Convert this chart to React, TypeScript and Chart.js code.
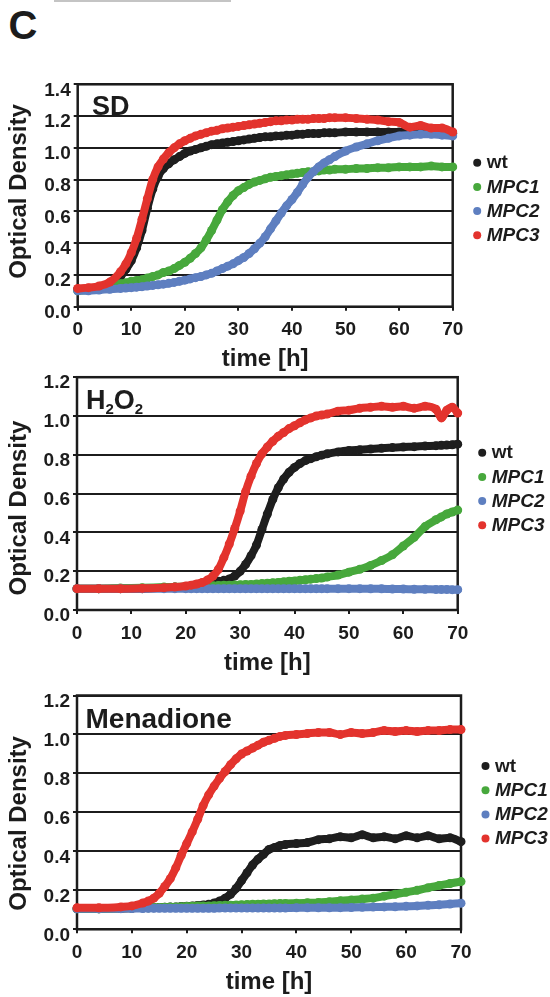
import React, { useEffect, useRef } from 'react';
import { Chart, registerables } from 'chart.js';

Chart.register(...registerables);
Chart.defaults.font.family = '"Liberation Sans", Arial, sans-serif';

// ---------- shared axis data ----------
const timeTicks = [0, 10, 20, 30, 40, 50, 60, 70];
const sdYTicks = [0, 0.2, 0.4, 0.6, 0.8, 1.0, 1.2, 1.4];
const stressYTicks = [0, 0.2, 0.4, 0.6, 0.8, 1.0, 1.2];
const seriesLabels = ['wt', 'MPC1', 'MPC2', 'MPC3'];
const labelItalic = [false, true, true, true];
const seriesColors = ['#1e1e1e', '#47a83c', '#5e7fc0', '#e3332d'];

// ---------- SD ----------
const sdTime = [0, 2, 4, 6, 8, 9, 10, 11, 12, 13, 14, 15, 16, 17, 18, 19, 20, 21, 22, 23, 24, 25, 26, 27, 28, 29, 30, 31, 32, 33, 34, 35, 36, 37, 38, 39, 40, 41, 42, 43, 44, 45, 46, 47, 48, 50, 52, 54, 56, 58, 60, 62, 64, 66, 68, 70];
const sdWt = [0.11, 0.115, 0.122, 0.14, 0.19, 0.235, 0.29, 0.37, 0.48, 0.62, 0.74, 0.82, 0.87, 0.9, 0.925, 0.945, 0.965, 0.98, 0.99, 1.0, 1.01, 1.02, 1.025, 1.03, 1.035, 1.04, 1.045, 1.05, 1.055, 1.06, 1.065, 1.07, 1.07, 1.075, 1.075, 1.08, 1.08, 1.085, 1.085, 1.09, 1.09, 1.09, 1.095, 1.095, 1.095, 1.1, 1.1, 1.1, 1.1, 1.1, 1.1, 1.1, 1.1, 1.095, 1.095, 1.09];
const sdMpc1 = [0.1, 0.105, 0.115, 0.13, 0.145, 0.15, 0.16, 0.165, 0.17, 0.18, 0.19, 0.2, 0.215, 0.225, 0.24, 0.26, 0.28, 0.305, 0.335, 0.37, 0.42, 0.48, 0.545, 0.61, 0.66, 0.7, 0.73, 0.75, 0.77, 0.785, 0.795, 0.805, 0.815, 0.82, 0.825, 0.83, 0.835, 0.84, 0.845, 0.85, 0.85, 0.855, 0.86, 0.86, 0.865, 0.865, 0.87, 0.87, 0.875, 0.875, 0.88, 0.88, 0.88, 0.885, 0.88, 0.88];
const sdMpc2 = [0.1, 0.1, 0.105, 0.11, 0.115, 0.117, 0.12, 0.123, 0.126, 0.13, 0.134, 0.138, 0.142, 0.147, 0.153, 0.16, 0.167, 0.175, 0.183, 0.19, 0.2, 0.21, 0.225, 0.24, 0.255, 0.27, 0.29, 0.31, 0.335, 0.365, 0.4, 0.44, 0.49, 0.54, 0.59, 0.635, 0.675, 0.72, 0.77, 0.815, 0.85, 0.88, 0.905, 0.925, 0.945, 0.98, 1.005, 1.025, 1.045, 1.06, 1.075, 1.08, 1.085, 1.085, 1.08, 1.075];
const sdMpc3 = [0.115, 0.12, 0.13, 0.155, 0.22, 0.27, 0.34, 0.43, 0.55, 0.68, 0.8, 0.88, 0.93, 0.97, 1.0, 1.025, 1.045, 1.06, 1.075, 1.085, 1.095, 1.105, 1.11, 1.12, 1.125, 1.13, 1.135, 1.14, 1.145, 1.15, 1.155, 1.16, 1.165, 1.17, 1.17, 1.175, 1.175, 1.18, 1.18, 1.18, 1.185, 1.185, 1.185, 1.19, 1.19, 1.19, 1.185, 1.18, 1.175, 1.165, 1.16, 1.13, 1.14, 1.125, 1.125, 1.1];

// ---------- H2O2 ----------
const hTime = [0, 4, 8, 12, 16, 18, 20, 21, 22, 23, 24, 25, 26, 27, 28, 29, 30, 31, 32, 33, 34, 35, 36, 37, 38, 39, 40, 41, 42, 43, 44, 45, 46, 48, 50, 52, 54, 56, 58, 60, 62, 64, 66, 67, 68, 69, 70];
const hWt = [0.11, 0.11, 0.11, 0.11, 0.115, 0.118, 0.12, 0.122, 0.125, 0.128, 0.135, 0.142, 0.148, 0.153, 0.16, 0.175, 0.2, 0.235, 0.28, 0.335, 0.415, 0.495, 0.57, 0.63, 0.675, 0.71, 0.735, 0.755, 0.77, 0.78, 0.79, 0.798, 0.805, 0.815, 0.822, 0.826, 0.83, 0.834, 0.837, 0.84, 0.842, 0.845, 0.847, 0.849, 0.85, 0.852, 0.855];
const hMpc1 = [0.11, 0.11, 0.113, 0.115, 0.118, 0.119, 0.12, 0.121, 0.122, 0.123, 0.124, 0.125, 0.126, 0.127, 0.128, 0.129, 0.13, 0.131, 0.132, 0.134, 0.136, 0.138, 0.14, 0.142, 0.145, 0.148, 0.15, 0.153, 0.156, 0.159, 0.162, 0.165, 0.17, 0.18, 0.195, 0.21, 0.23, 0.255, 0.285, 0.33, 0.375, 0.43, 0.465, 0.48, 0.495, 0.505, 0.515];
const hMpc2 = [0.11, 0.11, 0.11, 0.11, 0.11, 0.11, 0.11, 0.11, 0.11, 0.11, 0.11, 0.11, 0.11, 0.11, 0.11, 0.11, 0.11, 0.11, 0.11, 0.11, 0.11, 0.11, 0.11, 0.11, 0.11, 0.11, 0.11, 0.11, 0.11, 0.11, 0.11, 0.11, 0.11, 0.11, 0.11, 0.11, 0.109, 0.109, 0.108, 0.108, 0.107, 0.107, 0.106, 0.106, 0.106, 0.105, 0.105];
const hMpc3 = [0.11, 0.11, 0.11, 0.112, 0.115, 0.118, 0.124, 0.128, 0.134, 0.142, 0.155, 0.175, 0.21, 0.27, 0.34, 0.42, 0.51, 0.61, 0.69, 0.755, 0.805, 0.84, 0.87, 0.895, 0.915, 0.935, 0.95, 0.965, 0.98, 0.99, 1.0, 1.005, 1.01, 1.025, 1.03, 1.04, 1.045, 1.05, 1.045, 1.05, 1.04, 1.05, 1.035, 0.99, 1.03, 1.045, 1.015];

// ---------- Menadione ----------
const mTime = [0, 4, 8, 10, 12, 13, 14, 15, 16, 17, 18, 19, 20, 21, 22, 23, 24, 25, 26, 27, 28, 29, 30, 31, 32, 33, 34, 35, 36, 37, 38, 40, 42, 44, 46, 48, 50, 52, 54, 56, 58, 60, 62, 64, 66, 68, 70];
const mWt = [0.105, 0.105, 0.107, 0.108, 0.11, 0.11, 0.111, 0.112, 0.113, 0.114, 0.115, 0.117, 0.118, 0.12, 0.122, 0.125, 0.128, 0.135, 0.145, 0.16, 0.18, 0.21, 0.25, 0.29, 0.33, 0.36, 0.385, 0.41, 0.42, 0.43, 0.435, 0.44, 0.445, 0.46, 0.465, 0.475, 0.47, 0.485, 0.47, 0.475, 0.465, 0.48, 0.47, 0.48, 0.465, 0.47, 0.45];
const mMpc1 = [0.105, 0.105, 0.108, 0.11, 0.11, 0.11, 0.112, 0.112, 0.113, 0.114, 0.115, 0.116, 0.117, 0.118, 0.119, 0.12, 0.12, 0.121, 0.122, 0.123, 0.124, 0.125, 0.126, 0.127, 0.128, 0.129, 0.13, 0.13, 0.131, 0.132, 0.133, 0.134, 0.136, 0.138, 0.142, 0.146, 0.15, 0.155, 0.16, 0.17, 0.18, 0.19, 0.2, 0.213, 0.225, 0.235, 0.245];
const mMpc2 = [0.105, 0.105, 0.106, 0.107, 0.107, 0.108, 0.108, 0.108, 0.108, 0.108, 0.108, 0.108, 0.108, 0.108, 0.108, 0.108, 0.108, 0.108, 0.109, 0.109, 0.109, 0.109, 0.109, 0.109, 0.109, 0.109, 0.109, 0.109, 0.109, 0.109, 0.109, 0.11, 0.11, 0.11, 0.11, 0.111, 0.112, 0.113, 0.114, 0.115, 0.116, 0.118, 0.12, 0.123, 0.126, 0.13, 0.134];
const mMpc3 = [0.11, 0.11, 0.115, 0.12, 0.135, 0.145, 0.16, 0.185, 0.22, 0.26, 0.315, 0.38, 0.44, 0.5, 0.565, 0.635, 0.69, 0.735, 0.775, 0.81, 0.845, 0.875, 0.9, 0.915, 0.93, 0.945, 0.96, 0.97, 0.98, 0.99, 0.995, 1.0, 1.005, 1.01, 1.01, 1.0, 1.01, 1.005, 1.01, 1.02, 1.015, 1.02, 1.015, 1.02, 1.02, 1.025, 1.025];

const INK = '#1c1c1c';

type Seg = { text: string; size: number; dy?: number };

type PanelCfg = {
  canvasTop: number;
  canvasHeight: number;
  plot: { left: number; right: number; top: number; bottom: number };
  yMax: number;
  yTicks: number[];
  time: number[];
  series: number[][];
  title: Seg[];
  titleX: number;
  titleY: number;
  yTitleShift: number;
  legendTop: number;
};

const panels: PanelCfg[] = [
  {
    canvasTop: 50, canvasHeight: 326,
    plot: { left: 77.7, right: 452.7, top: 84.3, bottom: 306.7 },
    yMax: 1.4, yTicks: sdYTicks, time: sdTime,
    series: [sdWt, sdMpc1, sdMpc2, sdMpc3],
    title: [{ text: 'SD', size: 27 }], titleX: 14.3, titleY: 30.7,
    yTitleShift: -4, legendTop: 78.4,
  },
  {
    canvasTop: 360, canvasHeight: 322,
    plot: { left: 77, right: 457.7, top: 377.2, bottom: 610 },
    yMax: 1.2, yTicks: stressYTicks, time: hTime,
    series: [hWt, hMpc1, hMpc2, hMpc3],
    title: [{ text: 'H', size: 27 }, { text: '2', size: 15, dy: 5 }, { text: 'O', size: 27 }, { text: '2', size: 15, dy: 5 }],
    titleX: 9, titleY: 31.8,
    yTitleShift: 14.5, legendTop: 75.5,
  },
  {
    canvasTop: 676, canvasHeight: 321,
    plot: { left: 77, right: 461, top: 695.5, bottom: 929.3 },
    yMax: 1.2, yTicks: stressYTicks, time: mTime,
    series: [mWt, mMpc1, mMpc2, mMpc3],
    title: [{ text: 'Menadione', size: 28 }], titleX: 8.5, titleY: 32.8,
    yTitleShift: 11, legendTop: 70.5,
  },
];

const X_AXIS_H = 66;

const panelDecor = {
  id: 'panelDecor',
  beforeDatasetsDraw(chart: any) {
    const { ctx, chartArea: a } = chart;
    ctx.save();
    ctx.strokeStyle = INK;
    ctx.lineWidth = 2.5;
    ctx.strokeRect(a.left, a.top, a.right - a.left, a.bottom - a.top);
    ctx.restore();
  },
  afterDraw(chart: any, _args: any, o: any) {
    const { ctx, chartArea: a } = chart;
    const fam = '"Liberation Sans", Arial, sans-serif';
    ctx.save();
    ctx.fillStyle = INK;
    // panel title (inside plot area)
    let x = a.left + o.titleX;
    const baseY = a.top + o.titleY;
    ctx.textBaseline = 'alphabetic';
    ctx.textAlign = 'left';
    for (const s of o.title as Seg[]) {
      ctx.font = `bold ${s.size}px ${fam}`;
      ctx.fillText(s.text, x, baseY + (s.dy || 0));
      x += ctx.measureText(s.text).width;
    }
    // y axis title
    ctx.save();
    ctx.translate(19.5, (a.top + a.bottom) / 2 + o.yTitleShift);
    ctx.rotate(-Math.PI / 2);
    ctx.font = `bold 24px ${fam}`;
    ctx.textAlign = 'center';
    ctx.textBaseline = 'middle';
    ctx.fillText('Optical Density', 0, 0);
    ctx.restore();
    // legend
    chart.data.datasets.forEach((ds: any, i: number) => {
      const cy = a.top + o.legendTop + i * 24.2;
      ctx.beginPath();
      ctx.fillStyle = ds.borderColor;
      ctx.arc(a.right + 24.5, cy, 4, 0, Math.PI * 2);
      ctx.fill();
      ctx.fillStyle = INK;
      ctx.font = `${labelItalic[i] ? 'italic ' : ''}bold 19px ${fam}`;
      ctx.textAlign = 'left';
      ctx.textBaseline = 'middle';
      ctx.fillText(ds.label, a.right + 34, cy + 0.5);
    });
    ctx.restore();
  },
};

function Panel({ cfg }: { cfg: PanelCfg }) {
  const ref = useRef<HTMLCanvasElement>(null);
  useEffect(() => {
    const p = cfg.plot;
    const padTop = p.top - cfg.canvasTop;
    const padBottom = cfg.canvasTop + cfg.canvasHeight - p.bottom - X_AXIS_H;
    const chart = new Chart(ref.current as HTMLCanvasElement, {
      type: 'scatter',
      data: {
        datasets: cfg.series.map((vals, i) => ({
          label: seriesLabels[i],
          data: cfg.time.map((t, j) => ({ x: t, y: vals[j] })),
          showLine: true,
          borderColor: seriesColors[i],
          backgroundColor: seriesColors[i],
          borderWidth: 8,
          borderCapStyle: 'round',
          borderJoinStyle: 'round',
          pointRadius: 4.5,
          pointBorderWidth: 0,
          pointHoverRadius: 4.5,
          cubicInterpolationMode: 'monotone',
          clip: false,
          order: 4 - i,
        })) as any,
      },
      options: {
        responsive: false,
        animation: false,
        events: [],
        layout: { padding: { top: padTop, right: 550 - p.right, bottom: padBottom, left: 0 } },
        scales: {
          x: {
            type: 'linear',
            min: 0,
            max: 70,
            afterBuildTicks: (s: any) => { s.ticks = timeTicks.map((v) => ({ value: v })); },
            afterFit: (s: any) => { s.height = X_AXIS_H; },
            grid: { drawOnChartArea: false, drawTicks: true, tickLength: 4, color: INK, lineWidth: 2 },
            border: { display: false },
            ticks: { padding: 8, color: INK, maxRotation: 0, autoSkip: false, font: { size: 19, weight: 'bold' } },
            title: { display: true, text: 'time [h]', color: INK, font: { size: 24, weight: 'bold', lineHeight: 1 }, padding: { top: 0, bottom: 1 } },
          },
          y: {
            type: 'linear',
            min: 0,
            max: cfg.yMax,
            afterBuildTicks: (s: any) => { s.ticks = cfg.yTicks.map((v) => ({ value: v })); },
            afterFit: (s: any) => { s.width = p.left; },
            grid: { color: INK, lineWidth: 2, tickLength: 4 },
            border: { display: false },
            ticks: {
              padding: 3, labelOffset: 6, color: INK, autoSkip: false,
              font: { size: 19, weight: 'bold' },
              callback: (v: any) => Number(v).toFixed(1),
            },
          },
        },
        plugins: {
          legend: { display: false },
          tooltip: { enabled: false },
          panelDecor: {
            title: cfg.title, titleX: cfg.titleX, titleY: cfg.titleY,
            yTitleShift: cfg.yTitleShift, legendTop: cfg.legendTop,
          },
        } as any,
      },
      plugins: [panelDecor],
    });
    return () => chart.destroy();
  }, [cfg]);
  return (
    <canvas
      ref={ref}
      width={550}
      height={cfg.canvasHeight}
      style={{ position: 'absolute', left: 0, top: cfg.canvasTop, width: 550, height: cfg.canvasHeight, display: 'block' }}
    />
  );
}

export default function App() {
  return (
    <div style={{ position: 'absolute', left: 0, top: 0, width: 550, height: 997, background: '#fff', overflow: 'hidden' }}>
      <div style={{ position: 'absolute', left: 54, top: 0, width: 177, height: 2, background: '#c4c4c4' }} />
      <div
        style={{
          position: 'absolute', left: 8.5, top: 5.2, fontFamily: '"Liberation Sans", Arial, sans-serif',
          fontWeight: 'bold', fontSize: 40, lineHeight: '40px', color: INK,
        }}
      >
        C
      </div>
      {panels.map((cfg, i) => (
        <Panel key={i} cfg={cfg} />
      ))}
    </div>
  );
}
